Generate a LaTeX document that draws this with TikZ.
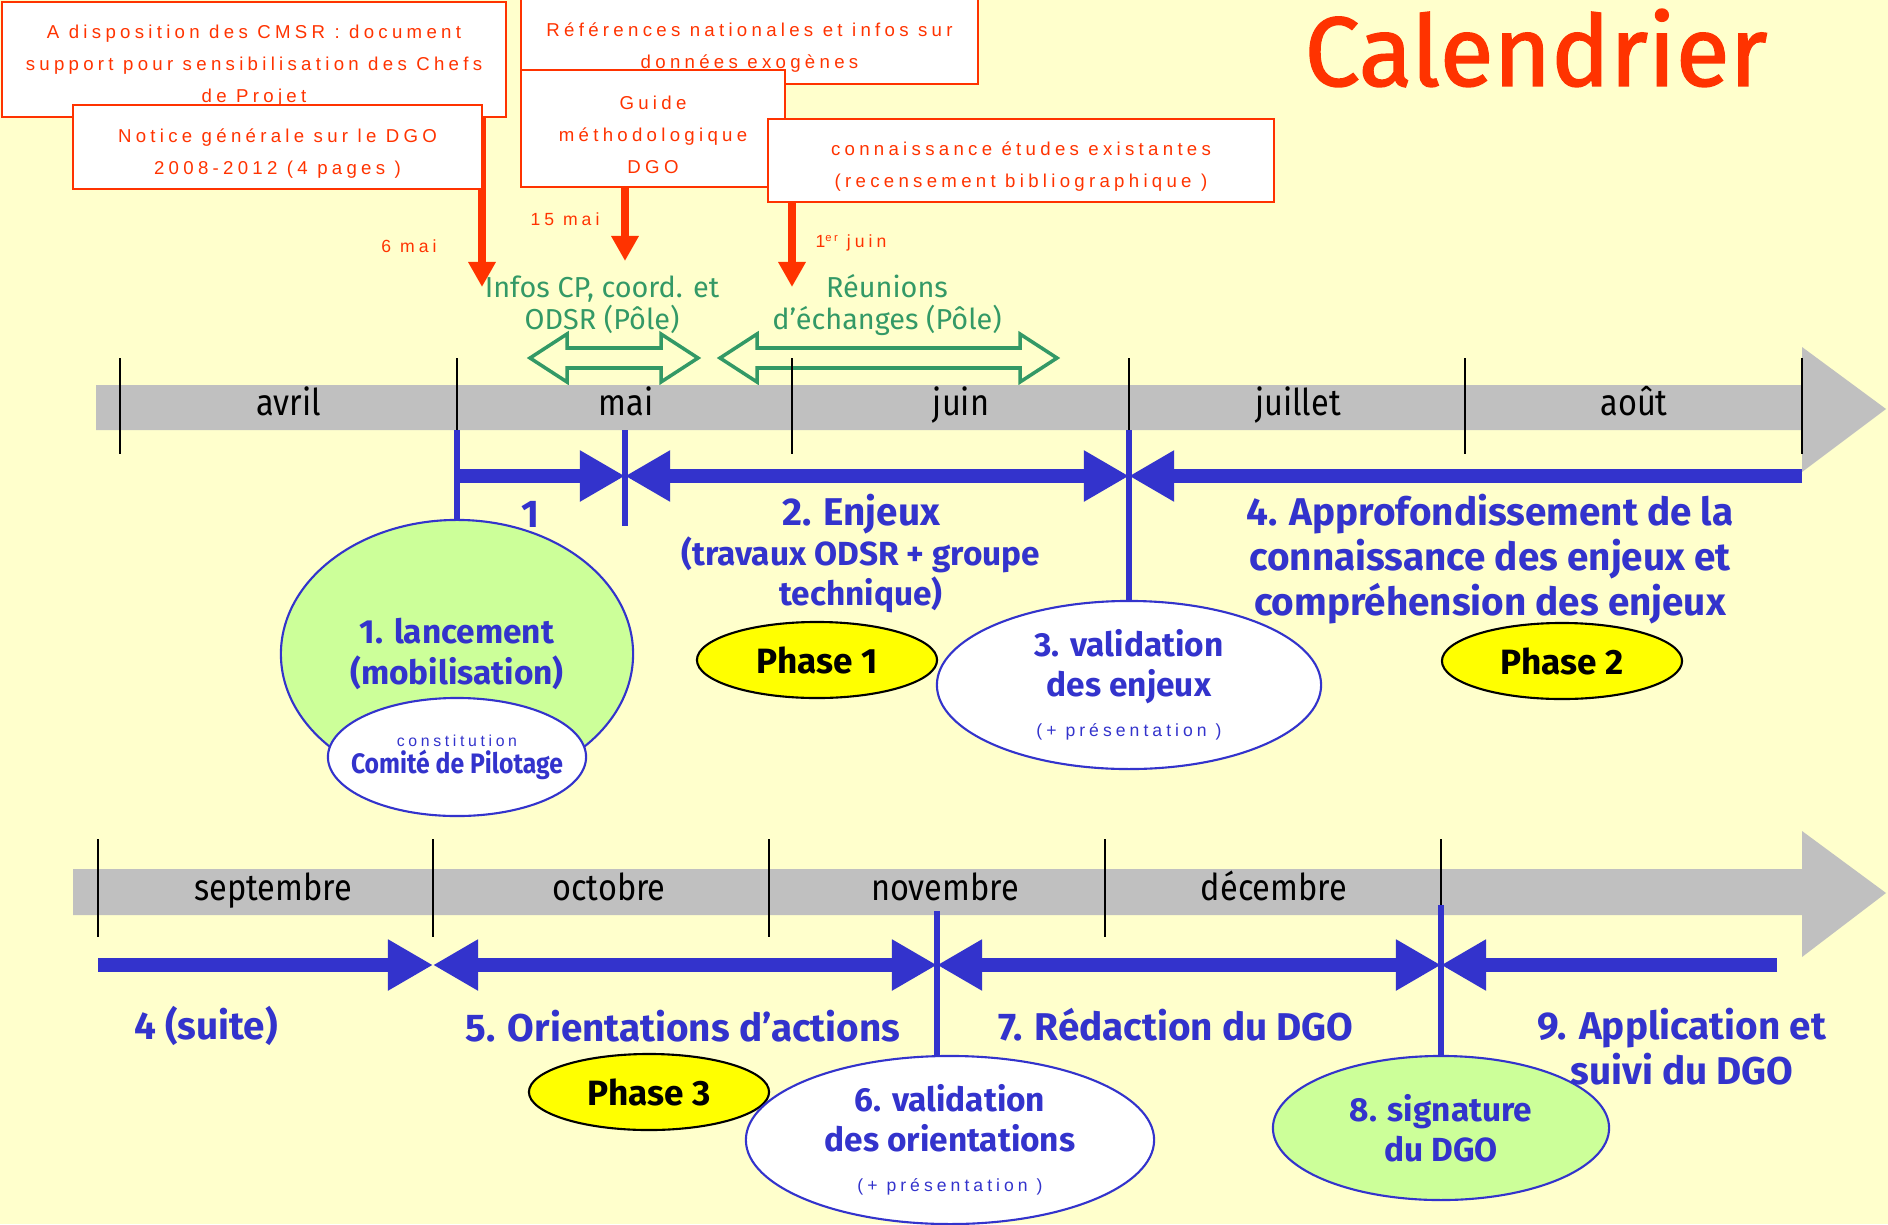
\documentclass[tikz,border=0pt]{standalone}
\usepackage{fontspec}
\setmainfont{Fira Sans}
\newfontfamily\narrowfont{Fira Sans}[FakeStretch=0.88]
\newfontfamily\titlefont{Fira Sans}[FakeBold=1.5]
\newfontfamily\spacedfont{Liberation Sans}[LetterSpace=23]
\usetikzlibrary{arrows.meta,shapes.geometric}
\definecolor{fond}{RGB}{255,255,204}
\definecolor{rouge}{RGB}{255,51,0}
\definecolor{bleu}{RGB}{51,51,204}
\definecolor{vert}{RGB}{51,153,102}
\definecolor{gris}{RGB}{192,192,192}
\definecolor{vertclair}{RGB}{204,255,153}
\definecolor{jaune}{RGB}{255,255,0}

\begin{document}
\begin{tikzpicture}[x=0.01cm, y=-0.01cm, every node/.style={inner sep=0pt, align=center},
    redbox/.style={draw=rouge, fill=white, line width=0.6pt, text=rouge, font=\spacedfont\fontsize{5.3}{9.1}\selectfont},
    redlabel/.style={text=rouge, font=\spacedfont\fontsize{5}{6}\selectfont},
    redarrow/.style={draw=rouge, line width=2.3pt, -{Triangle[length=2.5mm,width=2.6mm]}},
    greentext/.style={text=vert, font=\fontsize{8.2}{9.1}\selectfont},
    greenarrow/.style={draw=vert, line width=1pt, line join=miter},
    tick/.style={draw=black, line width=0.45pt},
    month/.style={anchor=base, text=black, font=\narrowfont\fontsize{10.5}{12}\selectfont},
    bluestem/.style={draw=bleu, line width=1.7pt},
    bluearrow/.style={draw=bleu, line width=4pt, >={Triangle[length=4.5mm,width=4.8mm]}},
    bluebig/.style={text=bleu, font=\bfseries\fontsize{11}{12.8}\selectfont},
    bluemid/.style={text=bleu, font=\bfseries\fontsize{9.5}{11.4}\selectfont},
    ell/.style={ellipse, line width=0.6pt, text=bleu, font=\bfseries\fontsize{9.5}{11.4}\selectfont},
    greenell/.style={ell, draw=bleu, fill=vertclair},
    whiteell/.style={ell, draw=bleu, fill=white},
    phase/.style={ellipse, draw=black, fill=jaune, line width=0.6pt, minimum width=2.4cm, minimum height=0.76cm, font=\bfseries\fontsize{10}{12}\selectfont}]

    \useasboundingbox (0,0) rectangle (1888,1224);
    \fill[fond] (0,0) rectangle (1888,1224);

    \node[text=rouge, font=\titlefont\fontsize{28}{30}\selectfont] (titre) at (1536,48) {Calendrier};

    % documents
    \coordinate (mai6) at (482,287);
    \coordinate (mai15) at (625,261);
    \coordinate (juin1) at (792,287);

    \node[redbox, minimum width=5.04cm, minimum height=1.15cm] (cmsr) at (254,59.5) {\rule{0pt}{7.5pt}A disposition des CMSR : document\\support pour sensibilisation des Chefs\\de Projet};
    \draw[redarrow] (cmsr.south -| mai6) -- (mai6);
    \node[redbox, minimum width=4.09cm, minimum height=0.84cm] (notice) at (277.5,147) {\rule{0pt}{7.5pt}Notice générale sur le DGO\\2008-2012 (4 pages )};
    \node[redbox, minimum width=4.57cm, minimum height=0.88cm] (refs) at (749.5,40) {\rule{0pt}{8pt}Références nationales et infos sur\\données exogènes};
    \node[redbox, minimum width=2.64cm, minimum height=1.17cm] (guide) at (653,128.5) {\rule{0pt}{7.5pt}Guide\\méthodologique\\DGO};
    \node[redbox, minimum width=5.06cm, minimum height=0.83cm] (etudes) at (1021,160.5) {\rule{0pt}{7.5pt}connaissance études existantes\\(recensement bibliographique )};
    \draw[redarrow] (guide.south -| mai15) -- (mai15);
    \draw[redarrow] (etudes.south -| juin1) -- (juin1);

    \node[redlabel] (lmai6) at (409,246) {6 mai};
    \node[redlabel] (lmai15) at (565,219) {15 mai};
    \node[redlabel] (ljuin1) at (851,243) {1\raisebox{0.6ex}{\fontsize{3.2}{4}\selectfont er} juin};

    \node[greentext] (infos) at (602,305) {Infos CP, coord. et\\ODSR (Pôle)};
    \node[greentext] (reunions) at (887,305) {Réunions\\d’échanges (Pôle)};
    \draw[greenarrow] (530,358) -- (567,334) -- (567,348) -- (661,348) -- (661,334) -- (698,358)
        -- (661,382) -- (661,368) -- (567,368) -- (567,382) -- cycle;
    \draw[greenarrow] (720,358) -- (757,334) -- (757,348) -- (1020,348) -- (1020,334) -- (1057,358)
        -- (1020,382) -- (1020,368) -- (757,368) -- (757,382) -- cycle;

    % premiere ligne
    \fill[gris] (96,385) -- (1802,385) -- (1802,347) -- (1886,409) -- (1802,472) -- (1802,430) -- (96,430) -- cycle;
    \foreach \x in {120,457,792,1129,1465,1802}
        \draw[tick] (\x,358) -- (\x,454);
    \foreach \x/\m [count=\i] in {289/avril, 626/mai, 961/juin, 1298/juillet, 1634/août}
        \node[month] (mois\i) at (\x,415) {\m};

    \node[greenell, minimum width=3.52cm, minimum height=2.68cm] (lanc) at (457,654) {1. lancement\\(mobilisation)};
    \node[whiteell, minimum width=2.58cm, minimum height=1.18cm, inner xsep=-0.3cm, font=\narrowfont\bfseries\fontsize{8}{7.7}\selectfont] (comite) at (457,757)
        {{\spacedfont\mdseries\fontsize{4.5}{5}\selectfont constitution}\\Comité de Pilotage};
    \node[phase] (ph1) at (817,660) {Phase 1};
    \node[whiteell, minimum width=3.84cm, minimum height=1.68cm] (val3) at (1129,685)
        {3. validation\\des enjeux\\{\spacedfont\mdseries\fontsize{5}{6}\selectfont (+ présentation )}};
    \node[phase] (ph2) at (1562,661) {Phase 2};

    \coordinate (d1) at (457,430);
    \coordinate (d2) at (625,430);
    \coordinate (d2b) at (625,526);
    \coordinate (d3) at (1129,430);
    \draw[bluestem] (d1) -- (lanc.north);
    \draw[bluestem] (d2) -- (d2b);
    \draw[bluestem] (d3) -- (val3.north);

    \coordinate (p1) at (457,476);
    \coordinate (p2) at (625,476);
    \coordinate (p3) at (1129,476);
    \coordinate (p4) at (1802,476);
    \draw[bluearrow, ->] (p1) -- (p2);
    \draw[bluearrow, <->] (p2) -- (p3);
    \draw[bluearrow, ->] (p4) -- (p3);

    \node[bluebig] (lab1) at (530,514) {1};
    \node[bluebig] (enjeux) at (861,514) {2. Enjeux};
    \node[bluemid] (enjeuxsub) at (861,575) {(travaux ODSR + groupe\\technique)};
    \node[bluebig] (appro) at (1490,559) {4. Approfondissement de la\\connaissance des enjeux et\\compréhension des enjeux};

    % deuxieme ligne
    \fill[gris] (73,869) -- (1802,869) -- (1802,831) -- (1886,893) -- (1802,957) -- (1802,915) -- (73,915) -- cycle;
    \foreach \x in {98,433,769,1105,1441}
        \draw[tick] (\x,839) -- (\x,937);
    \foreach \x/\m [count=\i] in {273/septembre, 609/octobre, 945/novembre, 1274/décembre}
        \node[month] (moisb\i) at (\x,900) {\m};

    \node[phase] (ph3) at (649,1092) {Phase 3};
    \node[whiteell, minimum width=4.08cm, minimum height=1.68cm] (val6) at (950,1140)
        {6. validation\\des orientations\\{\spacedfont\mdseries\fontsize{5}{6}\selectfont (+ présentation )}};
    \node[greenell, minimum width=3.36cm, minimum height=1.44cm] (sig8) at (1441,1128) {8. signature\\du DGO};

    \coordinate (f1) at (937,911);
    \coordinate (f2) at (1441,905);
    \draw[bluestem] (f1) -- (f1 |- val6.north);
    \draw[bluestem] (f2) -- (sig8.north);

    \coordinate (e1) at (98,965);
    \coordinate (e2) at (433,965);
    \coordinate (e3) at (937,965);
    \coordinate (e4) at (1441,965);
    \coordinate (e5) at (1777,965);
    \draw[bluearrow, ->] (e1) -- (e2);
    \draw[bluearrow, <->] (e2) -- (e3);
    \draw[bluearrow, <->] (e3) -- (e4);
    \draw[bluearrow, ->] (e5) -- (e4);

    \node[bluebig] (suite) at (206,1026) {4 (suite)};
    \node[bluebig] (orient) at (683,1026) {5. Orientations d’actions};
    \node[bluebig] (redac) at (1176,1025) {7. Rédaction du DGO};
    \node[bluebig] (appli) at (1682,1047) {9. Application et\\suivi du DGO};
\end{tikzpicture}
\end{document}
